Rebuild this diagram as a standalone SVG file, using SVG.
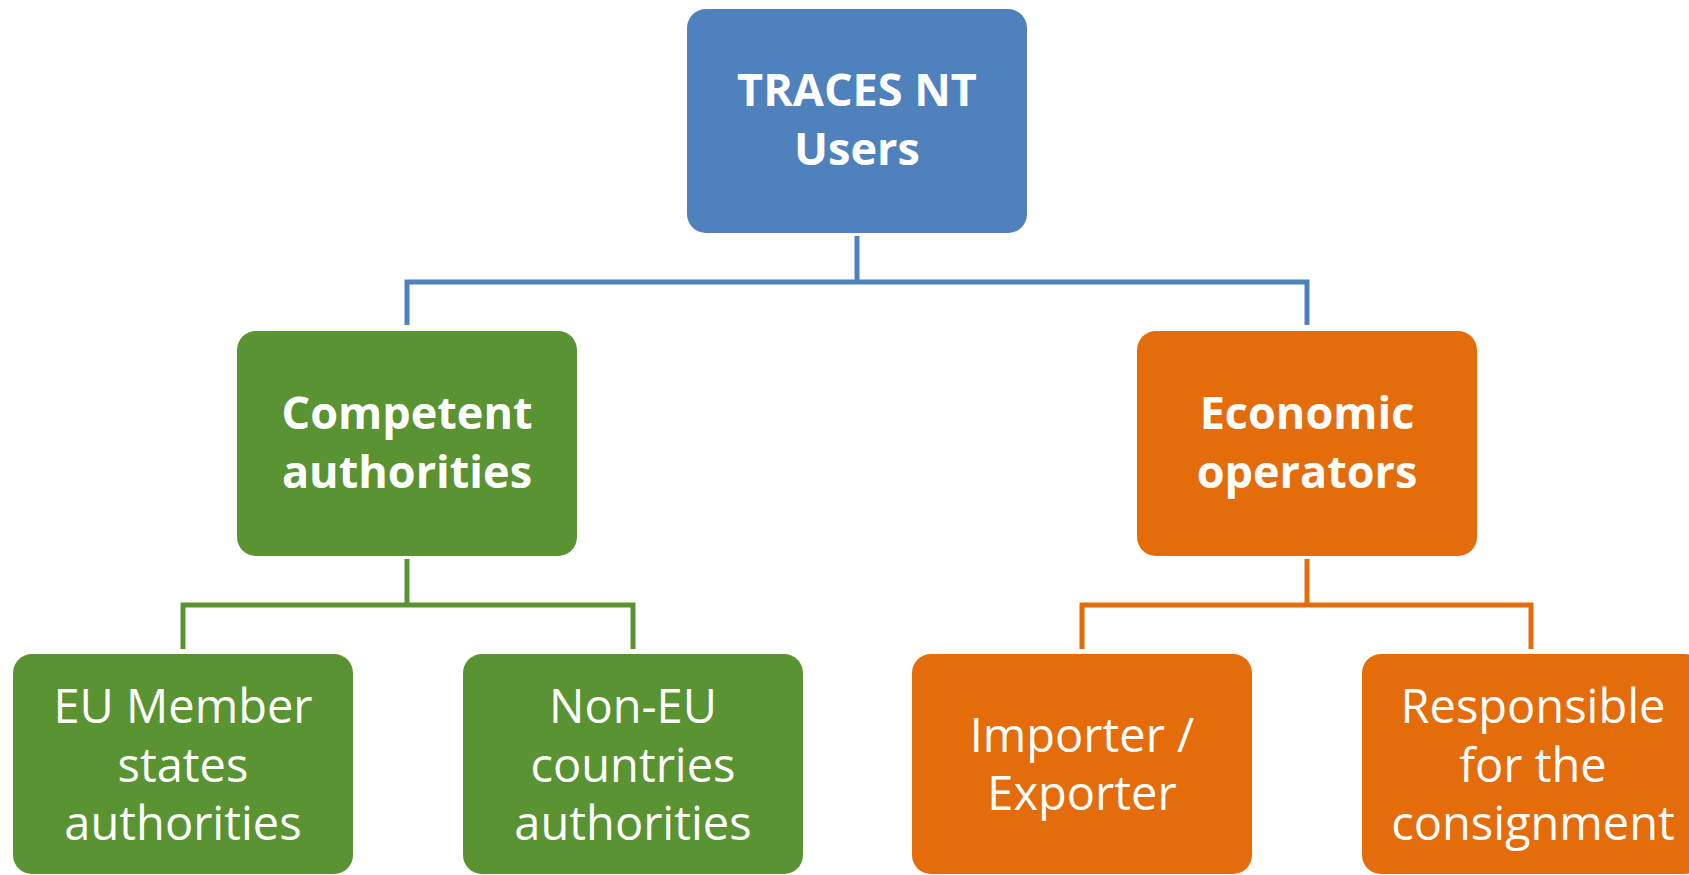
<svg xmlns="http://www.w3.org/2000/svg" width="1689" height="875" viewBox="0 0 1689 875">
<style>
.blue{fill:#4F81BD}
.green{fill:#5A9331}
.orange{fill:#E46C0A}
.c{fill:none;stroke-width:5;stroke-linejoin:miter}
.cb{stroke:#4F81BD}
.cg{stroke:#5A9331}
.co{stroke:#E46C0A}
text{font-family:"Open Sans","Noto Sans",sans-serif;fill:#FFFFFF;text-anchor:middle}
.b{font-weight:bold;font-size:45px}
.r{font-size:47px}
</style>
<rect width="1689" height="875" fill="#FFFFFF"/>
<g id="connectors">
<path class="c cb" d="M857,236 V282 M407,325 V282 H1307 V325"/>
<path class="c cg" d="M407,559 V605 M183,649 V605 H633 V649"/>
<path class="c co" d="M1307,559 V605 M1082,649 V605 H1531 V649"/>
</g>
<g id="node-root">
<rect class="blue" x="687" y="9" width="340" height="224" rx="19"/>
<text class="b" x="857" y="106">TRACES NT</text>
<text class="b" x="857" y="165">Users</text>
</g>
<g id="node-competent">
<rect class="green" x="237" y="331" width="340" height="225" rx="19"/>
<text class="b" x="407" y="429">Competent</text>
<text class="b" x="407" y="488">authorities</text>
</g>
<g id="node-economic">
<rect class="orange" x="1137" y="331" width="340" height="225" rx="19"/>
<text class="b" x="1307" y="429">Economic</text>
<text class="b" x="1307" y="488">operators</text>
</g>
<g id="node-eu">
<rect class="green" x="13" y="654" width="340" height="220" rx="19"/>
<text class="r" x="183" y="723">EU Member</text>
<text class="r" x="183" y="782">states</text>
<text class="r" x="183" y="840">authorities</text>
</g>
<g id="node-noneu">
<rect class="green" x="463" y="654" width="340" height="220" rx="19"/>
<text class="r" x="633" y="723">Non-EU</text>
<text class="r" x="633" y="782">countries</text>
<text class="r" x="633" y="840">authorities</text>
</g>
<g id="node-importer">
<rect class="orange" x="912" y="654" width="340" height="220" rx="19"/>
<text class="r" x="1082" y="752">Importer /</text>
<text class="r" x="1082" y="810">Exporter</text>
</g>
<g id="node-responsible">
<rect class="orange" x="1362" y="654" width="342" height="220" rx="19"/>
<text class="r" x="1533" y="723">Responsible</text>
<text class="r" x="1533" y="782">for the</text>
<text class="r" x="1533" y="840">consignment</text>
</g>
</svg>
